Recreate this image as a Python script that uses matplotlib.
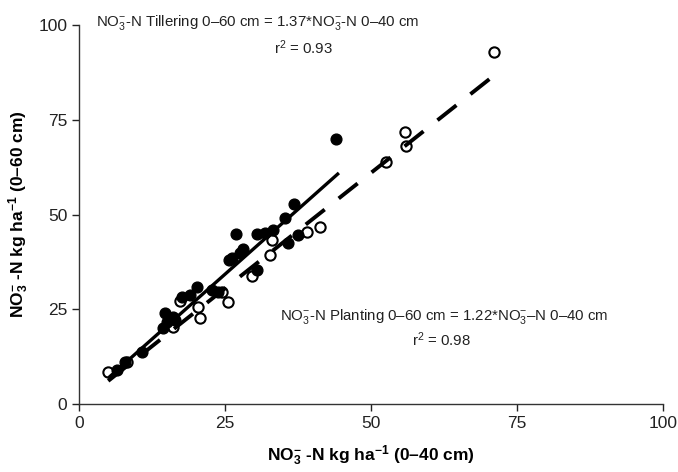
import matplotlib
matplotlib.use("Agg")
import matplotlib.pyplot as plt
import numpy as np

plt.rcParams['font.family'] = ['Liberation Sans', 'DejaVu Sans']
plt.rcParams['mathtext.fontset'] = 'custom'
plt.rcParams['mathtext.rm'] = 'Liberation Sans'
plt.rcParams['mathtext.it'] = 'Liberation Sans:italic'
plt.rcParams['mathtext.bf'] = 'Liberation Sans:bold'

# Tillering (filled circles)
till_x = [44, 36.8, 35.3, 33.2, 31.8, 30.5, 26.9, 28.1, 27.6, 25.7, 35.8, 37.5, 30.5,
          20.2, 22.8, 23.8, 19, 26.2, 17.6, 14.7, 16.1, 15, 16.4, 14.4, 10.8, 7.9, 6.5]
till_y = [70, 52.8, 49, 46, 45, 44.8, 44.8, 41, 39.8, 38, 42.4, 44.6, 35.4,
          30.9, 30.1, 29.5, 28.8, 38.5, 28.2, 24, 23, 21.6, 22.2, 20, 13.7, 11, 9]

# Planting (open circles)
plant_x = [5, 8.2, 16.1, 20.7, 20.3, 17.3, 24.5, 25.5, 29.6, 32.7, 33, 39, 41.3,
           52.5, 56, 55.8, 71]
plant_y = [8.4, 11.1, 20.3, 22.7, 25.6, 27.2, 29.6, 27, 33.8, 39.3, 43.3, 45.4, 46.6,
           63.9, 68, 71.8, 93]

till_slope = 1.37
plant_slope = 1.22
till_range = [5, 44.5]
plant_range = [5, 71]

xticks = [0, 25, 50, 75, 100]
yticks = [0, 25, 50, 75, 100]

fig = plt.figure(figsize=(6.78, 4.72), dpi=100)
ax = fig.add_axes([0.1165, 0.144, 0.8615, 0.803])

ax.scatter(plant_x, plant_y, s=55, facecolors='white', edgecolors='black',
           linewidths=1.5, zorder=3)
ax.scatter(till_x, till_y, s=60, facecolors='black', edgecolors='black',
           linewidths=1.0, zorder=3)

tx = np.array(till_range)
ax.plot(tx, till_slope * tx, color='black', lw=2.4, zorder=4, solid_capstyle='butt')
px = np.array(plant_range)
ax.plot(px, plant_slope * px, color='black', lw=2.8, zorder=4,
        dashes=(6.2, 4.6), dash_capstyle='butt')

ax.set_xlim(0, 100)
ax.set_ylim(0, 100)
ax.set_xticks(xticks)
ax.set_yticks(yticks)
ax.tick_params(labelsize=12.5, colors='#222222', length=5, width=1, direction='out')
for s in ['top', 'right']:
    ax.spines[s].set_visible(False)
for s in ['left', 'bottom']:
    ax.spines[s].set_color('#333333')
    ax.spines[s].set_linewidth(1.0)

ax.set_xlabel(r"NO$_{\mathbf{3}}^{\mathbf{-}}$ -N kg ha$^{\mathbf{-1}}$ (0–40 cm)",
              fontsize=12.5, fontweight='bold', labelpad=9)
ax.set_ylabel(r"NO$_{\mathbf{3}}^{\mathbf{-}}$ -N kg ha$^{\mathbf{-1}}$ (0–60 cm)",
              fontsize=12.5, fontweight='bold', labelpad=5)

akw = dict(fontsize=10.8, ha='center', va='center', color='#222222')
ax.text(30.6, 100.6, r"NO$_3^{-}$-N Tillering 0–60 cm = 1.37*NO$_3^{-}$-N 0–40 cm",
        clip_on=False, **akw)
ax.text(38.4, 94.0, r"r$^2$ = 0.93", **akw)
ax.text(62.5, 23.2, r"NO$_3^{-}$-N Planting 0–60 cm = 1.22*NO$_3^{-}$–N 0–40 cm", **akw)
ax.text(62, 17.1, r"r$^2$ = 0.98", **akw)

fig.savefig("out.png", dpi=100)
